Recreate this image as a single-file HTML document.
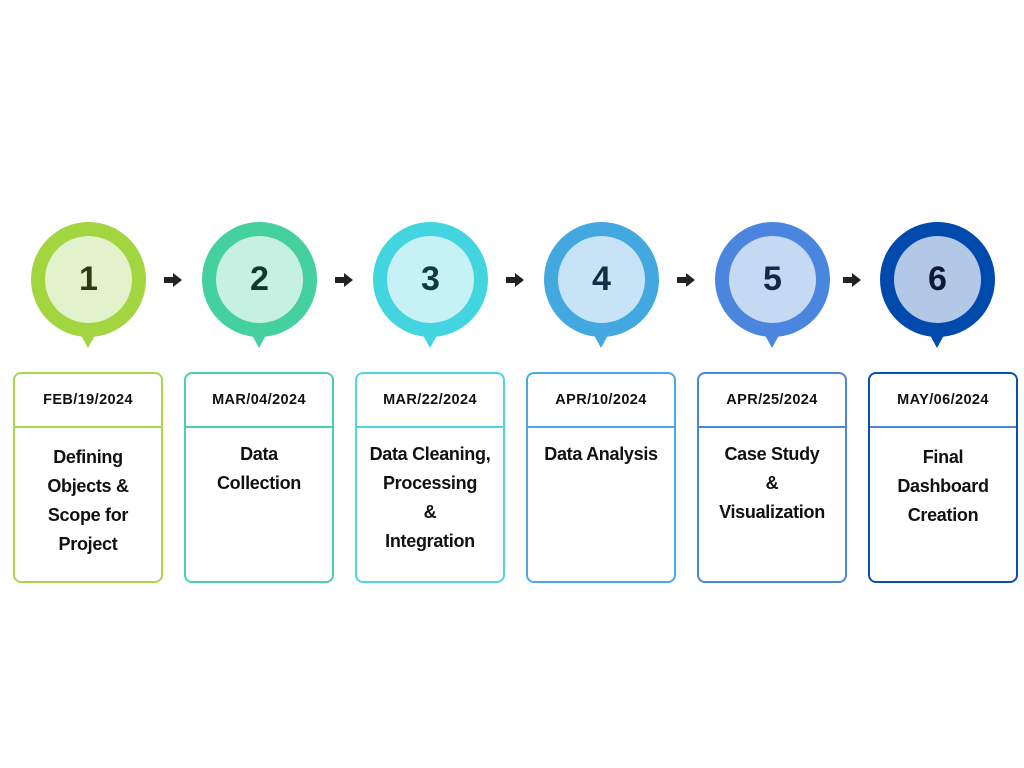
<!DOCTYPE html>
<html><head><style>
body{margin:0;width:1024px;height:768px;background:#fff;position:relative;font-family:"Liberation Sans",sans-serif;overflow:hidden}
.c{position:absolute;width:115px;height:115px;border-radius:50%;top:222px}
.c .in{position:absolute;left:14px;top:14px;width:87px;height:87px;border-radius:50%;display:flex;align-items:center;justify-content:center;font-weight:bold;font-size:34px}
.c .tip{position:absolute;left:45px;top:104px;width:0;height:0;border-left:12px solid transparent;border-right:12px solid transparent;border-top:22px solid}
.b{position:absolute;top:372px;width:146px;height:207px;border:2px solid;border-radius:8px;text-align:center}
.b .d{height:52px;border-bottom:2px solid;font-weight:bold;font-size:14.5px;letter-spacing:0.4px;line-height:52px;color:#111}
.b .t{font-weight:bold;font-size:18px;letter-spacing:-0.3px;line-height:29px;color:#111;padding-top:12px}
.a{position:absolute;top:277px;width:10px;height:6px;background:#222}
.a:after{content:"";position:absolute;left:9px;top:-4px;border-top:7px solid transparent;border-bottom:7px solid transparent;border-left:9px solid #222}
</style></head><body>

<div class="c" style="left:31px;background:#a3d541"><div class="in" style="background:#e2f2cb;color:#2b3a10">1</div><div class="tip" style="border-top-color:#a3d541"></div></div>
<div class="c" style="left:202px;background:#45d0a0"><div class="in" style="background:#c6f0e1;color:#0f3a2c">2</div><div class="tip" style="border-top-color:#45d0a0"></div></div>
<div class="c" style="left:373px;background:#42d5e0"><div class="in" style="background:#c6f1f5;color:#0f3a40">3</div><div class="tip" style="border-top-color:#42d5e0"></div></div>
<div class="c" style="left:544px;background:#44a8e0"><div class="in" style="background:#c6e4f6;color:#102f45">4</div><div class="tip" style="border-top-color:#44a8e0"></div></div>
<div class="c" style="left:715px;background:#4a86de"><div class="in" style="background:#c5d9f3;color:#13284a">5</div><div class="tip" style="border-top-color:#4a86de"></div></div>
<div class="c" style="left:880px;background:#004aad"><div class="in" style="background:#b2c8e6;color:#0c1a33">6</div><div class="tip" style="border-top-color:#004aad"></div></div>

<div class="a" style="left:164px"></div>
<div class="a" style="left:335px"></div>
<div class="a" style="left:506px"></div>
<div class="a" style="left:677px"></div>
<div class="a" style="left:843px"></div>

<div class="b" style="left:13px;border-color:#a8d84a"><div class="d" style="border-color:#a8d84a">FEB/19/2024</div><div class="t" style="padding-top:15px">Defining<br>Objects &amp;<br>Scope for<br>Project</div></div>
<div class="b" style="left:184px;border-color:#4bd1a3"><div class="d" style="border-color:#4bd1a3">MAR/04/2024</div><div class="t">Data<br>Collection</div></div>
<div class="b" style="left:355px;border-color:#4fd6e0"><div class="d" style="border-color:#4fd6e0">MAR/22/2024</div><div class="t">Data Cleaning,<br>Processing<br>&amp;<br>Integration</div></div>
<div class="b" style="left:526px;border-color:#4aa9e0"><div class="d" style="border-color:#4aa9e0">APR/10/2024</div><div class="t">Data Analysis</div></div>
<div class="b" style="left:697px;border-color:#4a86de"><div class="d" style="border-color:#4a86de">APR/25/2024</div><div class="t">Case Study<br>&amp;<br>Visualization</div></div>
<div class="b" style="left:868px;border-color:#0a4fb0"><div class="d" style="border-color:#4a86de">MAY/06/2024</div><div class="t" style="padding-top:15px">Final<br>Dashboard<br>Creation</div></div>

</body></html>
